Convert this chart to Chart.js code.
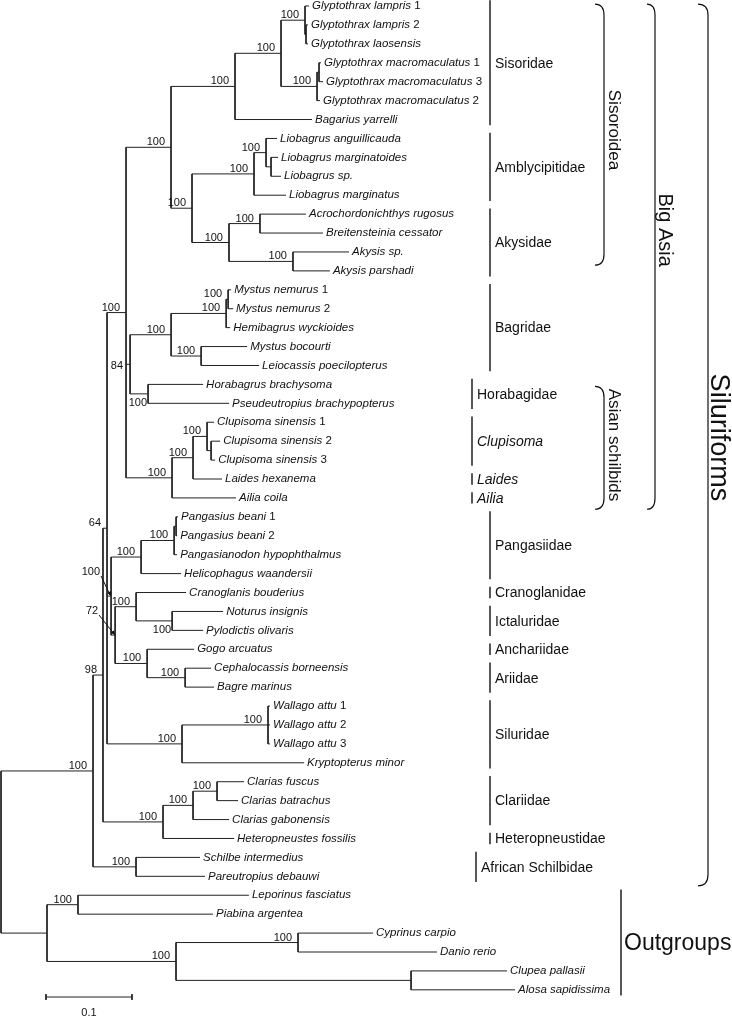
<!DOCTYPE html>
<html lang="en">
<head>
<meta charset="UTF-8">
<title>Siluriformes tree</title>
<script src="https://cdn.jsdelivr.net/npm/chart.js"></script>
<style>
  html, body { margin: 0; padding: 0; background: #fff; }
</style>
</head>
<body>
<canvas id="treeCanvas" width="732" height="1019"></canvas>
<script>
// --- data -------------------------------------------------------------
// tree with branch lengths (subst./site) and bootstrap values after ')'
const treeNewick =
  '(((((((((Glyptothrax lampris 1:0.0047,(Glyptothrax lampris 2:0.0023,Glyptothrax laosensis:0.0023):0.0012)100:0.0279,' +
  '((Glyptothrax macromaculatus 1:0.0023,Glyptothrax macromaculatus 3:0.0047):0.0023,Glyptothrax macromaculatus 2:0.0035)100:0.0419)100:0.0535,' +
  'Bagarius yarrelli:0.0895)100:0.0744,' +
  '(((Liobagrus anguillicauda:0.0128,(Liobagrus marginatoides:0.0081,Liobagrus sp.:0.0116):0.0058)100:0.0140,Liobagrus marginatus:0.0372)100:0.0721,' +
  '((Acrochordonichthys rugosus:0.0535,Breitensteinia cessator:0.0733)100:0.0360,(Akysis sp.:0.0651,Akysis parshadi:0.0430)100:0.0744)100:0.0430)100:0.0244)100:0.0523,' +
  '((((Mystus nemurus 1:0.0035,Mystus nemurus 2:0.0058)100:0.0023,Hemibagrus wyckioides:0.0047)100:0.0640,' +
  '(Mystus bocourti:0.0535,Leiocassis poecilopterus:0.0674)100:0.0349)100:0.0477,' +
  '(Horabagrus brachysoma:0.0640,Pseudeutropius brachypopterus:0.0942)100:0.0209)84:0.0047,' +
  '(((Clupisoma sinensis 1:0.0081,(Clupisoma sinensis 2:0.0105,Clupisoma sinensis 3:0.0047):0.0047)100:0.0163,Laides hexanema:0.0337)100:0.0244,' +
  'Ailia coila:0.0744)100:0.0535)100:0.0221,' +
  '((((Pangasius beani 1:0.0023,Pangasius beani 2:0.0012):0.0023,Pangasianodon hypophthalmus:0.0035)100:0.0384,Helicophagus waandersii:0.0465)100:0.0349,' +
  '((Cranoglanis bouderius:0.0581,(Noturus insignis:0.0593,Pylodictis olivaris:0.0360)100:0.0419)100:0.0244,' +
  '(Gogo arcuatus:0.0547,(Cephalocassis borneensis:0.0302,Bagre marinus:0.0337)100:0.0442)100:0.0372)72:0.0047)100:0.0047,' +
  '((Wallago attu 1:0.0023,Wallago attu 2:0.0023,Wallago attu 3:0.0023)100:0.1000,Kryptopterus minor:0.1419)100:0.0872)64:0.0047,' +
  '(((Clarias fuscus:0.0314,Clarias batrachus:0.0244)100:0.0279,Clarias gabonensis:0.0419)100:0.0349,Heteropneustes fossilis:0.0826)100:0.0698)98:0.0116,' +
  '(Schilbe intermedius:0.0744,Pareutropius debauwi:0.0802)100:0.0500)100:0.1070,' +
  '((Leporinus fasciatus:0.1988,Piabina argentea:0.1570)100:0.0360,' +
  '((Cyprinus carpio:0.0872,Danio rerio:0.1616)100:0.1419,(Clupea pallasii:0.1116,Alosa sapidissima:0.1209):0.2733)100:0.1500):0.0535);';

// family bars, by leaf index (top = 0)
const familyNames = ['Sisoridae', 'Amblycipitidae', 'Akysidae', 'Bagridae', 'Horabagidae', 'Clupisoma', 'Laides', 'Ailia',
  'Pangasiidae', 'Cranoglanidae', 'Ictaluridae', 'Anchariidae', 'Ariidae', 'Siluridae', 'Clariidae', 'Heteropneustidae',
  'African Schilbidae', 'Outgroups'];
const familyFirst = [0, 7, 11, 15, 20, 22, 25, 26, 27, 31, 32, 34, 35, 37, 41, 44, 45, 47];
const familyLast  = [6, 10, 14, 19, 21, 24, 25, 26, 30, 31, 33, 34, 36, 40, 43, 44, 46, 52];
const familyItalic = ['Clupisoma', 'Laides', 'Ailia'];

// braces (leaf units)
const braceNames = ['Sisoroidea', 'Asian schilbids', 'Big Asia', 'Siluriforms'];
const braceFrom = [-0.1, 20.1, -0.1, -0.1];
const braceTo = [13.7, 26.6, 26.6, 46.5];
const braceTextAt = [6.55, 23.2, 11.85, 22.8];

// scale bar
const scaleBarLen = 0.1;
const scaleBarLabel = '0.1';

// nodes whose support value is not drawn in the default spot (first|last leaf)
const labelsBelow = ['Horabagrus brachysoma|Pseudeutropius brachypopterus', 'Noturus insignis|Pylodictis olivaris'];
const labelsLeft = ['Mystus nemurus 1|Pseudeutropius brachypopterus'];
const labelsArrow = { 'Pangasius beani 1|Bagre marinus': [-11, -21], 'Cranoglanis bouderius|Bagre marinus': [-17, -21] };

// --- layout / styles --------------------------------------------------
const PX_PER_UNIT = 860, ROW = 18.92, TOP = 6, LEFT = 1;
const familyBarX = [490, 490, 490, 490, 472, 472, 472, 472, 490, 490, 490, 490, 490, 490, 490, 490, 476, 621];
const braceX = [[595, 604, 614], [595, 604, 614], [647, 655, 665], [698, 708, 718]];
const braceFont = [17, 17, 20, 27];
const FONT = '"Liberation Sans", Arial, sans-serif';
const INK = '#111';

// --- newick parsing ---------------------------------------------------
function parseNewick(s) {
    let i = 0;
    function readUntil(stops) {
        let t = '';
        while (i < s.length && !stops.includes(s[i])) t += s[i++];
        return t.trim();
    }
    function node() {
        const n = { children: [], name: '', label: '', len: 0 };
        if (s[i] === '(') {
            i++;
            n.children.push(node());
            while (s[i] === ',') { i++; n.children.push(node()); }
            i++; // ')'
            n.label = readUntil(':,);');
        } else {
            n.name = readUntil(':,);');
        }
        if (s[i] === ':') { i++; n.len = parseFloat(readUntil(',);')); }
        return n;
    }
    return node();
}

const root = parseNewick(treeNewick);
const leaves = [], internals = [];
function layout(n, parentX) {
    n.px = parentX;
    n.x = parentX + n.len;
    if (!n.children.length) {
        n.y = leaves.length;
        leaves.push(n);
        n.first = n.last = n;
    } else {
        n.children.forEach(c => layout(c, n.x));
        const a = n.children[0], b = n.children[n.children.length - 1];
        n.y = (a.y + b.y) / 2;
        n.first = a.first; n.last = b.last;
        internals.push(n);
    }
}
layout(root, 0);

// rectangular tree as line segments broken by null points
const treePts = [];
(function collect(n) {
    treePts.push({ x: n.px, y: n.y }, { x: n.x, y: n.y }, { x: null, y: null });
    if (n.children.length) {
        treePts.push({ x: n.x, y: n.children[0].y }, { x: n.x, y: n.children[n.children.length - 1].y }, { x: null, y: null });
        n.children.forEach(collect);
    }
})(root);

const barY = 52.38, barX0 = 0.0523, tick = 0.15;
const scalePts = [
    { x: barX0, y: barY - tick }, { x: barX0, y: barY + tick }, { x: null, y: null },
    { x: barX0, y: barY }, { x: barX0 + scaleBarLen, y: barY }, { x: null, y: null },
    { x: barX0 + scaleBarLen, y: barY - tick }, { x: barX0 + scaleBarLen, y: barY + tick }
];

function drawBrace(ctx, x0, x1, yTop, yBot) {
    const r = 11;
    ctx.beginPath();
    ctx.moveTo(x0, yTop);
    ctx.quadraticCurveTo(x1, yTop, x1, yTop + r);
    ctx.lineTo(x1, yBot - r);
    ctx.quadraticCurveTo(x1, yBot, x0, yBot);
    ctx.stroke();
}

const treeText = {
    id: 'treeText',
    afterDatasetsDraw(chart) {
        const ctx = chart.ctx;
        const px = v => chart.scales.x.getPixelForValue(v);
        const py = v => chart.scales.y.getPixelForValue(v);
        ctx.save();
        ctx.fillStyle = INK;
        ctx.strokeStyle = INK;

        // taxon names
        ctx.textBaseline = 'middle';
        ctx.textAlign = 'left';
        leaves.forEach(l => {
            const m = l.name.match(/^(.*?)( \d)$/);
            const main = m ? m[1] : l.name;
            const x = px(l.x) + 3, y = py(l.y);
            ctx.font = 'italic 11.5px ' + FONT;
            ctx.fillText(main, x, y);
            if (m) {
                const w = ctx.measureText(main).width;
                ctx.font = '11.5px ' + FONT;
                ctx.fillText(m[2], x + w, y);
            }
        });

        // bootstrap values
        ctx.font = '11px ' + FONT;
        ctx.textAlign = 'right';
        ctx.textBaseline = 'alphabetic';
        internals.forEach(n => {
            if (!n.label) return;
            const key = n.first.name + '|' + n.last.name;
            const x = px(n.x), y = py(n.y);
            if (labelsArrow[key]) {
                const [dx, dy] = labelsArrow[key];
                ctx.fillText(n.label, x + dx, y + dy);
                const sx = x + dx + 1, sy = y + dy + 1;
                ctx.lineWidth = 1;
                ctx.beginPath(); ctx.moveTo(sx, sy); ctx.lineTo(x - 1, y - 1); ctx.stroke();
                const a = Math.atan2(y - sy, x - sx);
                ctx.beginPath();
                ctx.moveTo(x, y);
                ctx.lineTo(x - 5 * Math.cos(a - 0.45), y - 5 * Math.sin(a - 0.45));
                ctx.lineTo(x - 5 * Math.cos(a + 0.45), y - 5 * Math.sin(a + 0.45));
                ctx.closePath(); ctx.fill();
            } else if (labelsBelow.includes(key)) {
                ctx.fillText(n.label, x - 1, y + 12);
            } else if (labelsLeft.includes(key)) {
                ctx.fillText(n.label, px(n.px) - 3, y + 5);
            } else {
                ctx.fillText(n.label, x - 6, y - 2);
            }
        });

        // family bars
        ctx.textAlign = 'left';
        ctx.textBaseline = 'middle';
        ctx.lineWidth = 1.4;
        familyNames.forEach((name, k) => {
            const bx = familyBarX[k];
            const y0 = py(familyFirst[k] - 0.3), y1 = py(familyLast[k] + 0.3);
            ctx.beginPath(); ctx.moveTo(bx, y0); ctx.lineTo(bx, y1); ctx.stroke();
            const big = name === 'Outgroups';
            ctx.font = (familyItalic.includes(name) ? 'italic ' : '') + (big ? '23px ' : '14px ') + FONT;
            ctx.fillText(name, bx + (big ? 3 : 5), py((familyFirst[k] + familyLast[k]) / 2) + 1);
        });

        // braces with rotated names
        ctx.lineWidth = 1.2;
        braceNames.forEach((name, k) => {
            const [x0, x1, tx] = braceX[k];
            drawBrace(ctx, x0, x1, py(braceFrom[k]), py(braceTo[k]));
            ctx.save();
            ctx.translate(tx, py(braceTextAt[k]));
            ctx.rotate(Math.PI / 2);
            ctx.font = braceFont[k] + 'px ' + FONT;
            ctx.textAlign = 'center';
            ctx.fillText(name, 0, 0);
            ctx.restore();
        });

        // scale bar label
        ctx.font = '11px ' + FONT;
        ctx.textAlign = 'center';
        ctx.fillText(scaleBarLabel, px(barX0 + scaleBarLen / 2), py(barY) + 16);
        ctx.restore();
    }
};

new Chart(document.getElementById('treeCanvas'), {
    type: 'scatter',
    data: {
        datasets: [
            { label: 'tree', data: treePts, showLine: true, borderColor: '#222', borderWidth: 1, pointRadius: 0, spanGaps: false },
            { label: 'scale', data: scalePts, showLine: true, borderColor: '#222', borderWidth: 1, pointRadius: 0, spanGaps: false }
        ]
    },
    options: {
        responsive: false,
        animation: false,
        events: [],
        layout: { padding: 0 },
        plugins: { legend: { display: false }, tooltip: { enabled: false } },
        scales: {
            x: { type: 'linear', display: false, min: -LEFT / PX_PER_UNIT, max: (732 - LEFT) / PX_PER_UNIT },
            y: { type: 'linear', display: false, reverse: true, min: -TOP / ROW, max: (1019 - TOP) / ROW }
        }
    },
    plugins: [treeText]
});
</script>
</body>
</html>
